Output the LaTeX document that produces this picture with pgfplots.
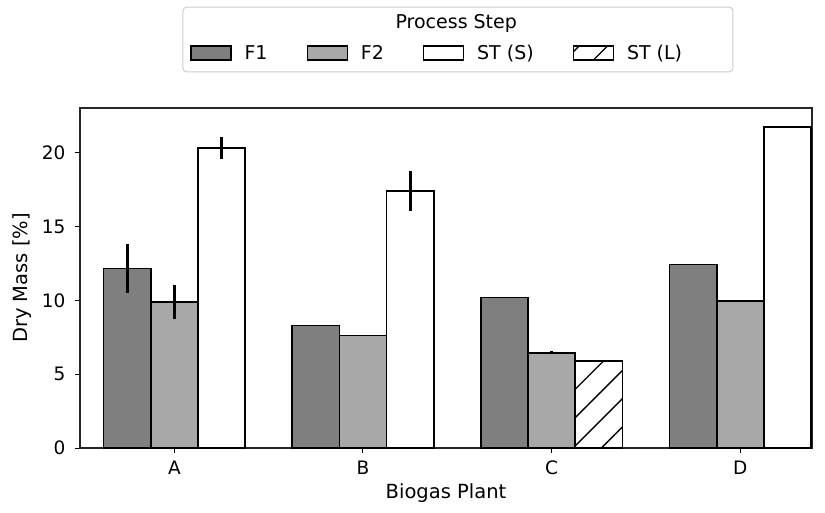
\documentclass[border=0pt]{standalone}
\usepackage{pgfplots}
\pgfplotsset{compat=1.18}
\usepackage{fontspec}
\setmainfont{DejaVu Sans}
\usetikzlibrary{patterns.meta}
\definecolor{fone}{HTML}{7F7F7F}
\definecolor{ftwo}{HTML}{A8A8A8}
\definecolor{legframe}{HTML}{CCCCCC}
\pgfplotsset{
  barstyle/.style={ybar, bar width=0.25, bar shift=0pt, draw=black, line width=1.6pt,
    error bars/y dir=both, error bars/y explicit, error bars/error mark=none,
    error bars/error bar style={line width=2.8pt, black}},
}
\begin{document}
\begin{tikzpicture}
\useasboundingbox (-80pt,-64pt) rectangle (745pt,448pt);
\begin{axis}[
  scale only axis,
  width=732pt, height=340pt,
  at={(0,0)}, anchor=south west,
  xmin=-0.5, xmax=3.38,
  ymin=0, ymax=23.05,
  xtick={0,1,2,3},
  xticklabels={A,B,C,D},
  ytick={0,5,10,15,20},
  tick pos=left,
  tick align=outside,
  major tick length=5pt,
  every tick/.style={black, line width=1pt},
  axis line style={line width=1.1pt, black!85},
  /pgf/number format/assume math mode=true,
  tick label style={font=\fontsize{18.5}{20}\selectfont},
  yticklabel style={xshift=-6pt},
  xticklabel style={yshift=-4pt},
  xlabel={Biogas Plant},
  ylabel={Dry Mass [\%]},
  every axis x label/.style={at={(axis description cs:0.5,0)}, yshift=-45pt, anchor=center, font=\fontsize{19.5}{22}\selectfont},
  every axis y label/.style={at={(axis description cs:0,0.5)}, xshift=-58pt, anchor=center, rotate=90, font=\fontsize{19.5}{22}\selectfont},
  clip=false,
  legend columns=4,
  legend image code/.code={\draw[#1, draw=black, line width=1.3pt] (0pt,-7pt) rectangle (40pt,7pt);},
  legend style={
    at={(0.1503,1.162)}, anchor=west, draw=none, fill=none,
    inner sep=0pt,
    font=\fontsize{19}{22}\selectfont,
    nodes={inner sep=0pt},
    /tikz/every odd column/.append style={column sep=13pt},
    /tikz/every even column/.append style={column sep=39pt},
  },
]
\draw[legframe, line width=1pt, rounded corners=4pt, fill=white]
  (rel axis cs:0.1407,1.106) rectangle (rel axis cs:0.892,1.297);
\node[font=\fontsize{19}{22}\selectfont, anchor=center] at (rel axis cs:0.514,1.25) {Process Step};

\addplot[barstyle, fill=fone]
  table[x=x, y=y, y error=e] {
x y e
-0.25 12.16 1.64
0.75 8.31 0.04
1.75 10.21 0.0
2.75 12.45 0.05
};
\addlegendentry{F1}
\addplot[barstyle, fill=ftwo]
  table[x=x, y=y, y error=e] {
x y e
0 9.90 1.15
1 7.63 0.03
2 6.46 0.12
3 9.97 0.0
};
\addlegendentry{F2}
\addplot[barstyle, fill=white]
  table[x=x, y=y, y error=e] {
x y e
0.25 20.34 0.75
1.25 17.42 1.36
3.25 21.76 0.08
};
\addlegendentry{ST (S)}
\addplot[barstyle, fill=white, postaction={pattern={Lines[angle=45,distance=20pt,line width=1.3pt]}}]
  table[x=x, y=y, y error=e] {
x y e
2.25 5.90 0.03
};
\addlegendentry{ST (L)}
\end{axis}
\end{tikzpicture}
\end{document}
